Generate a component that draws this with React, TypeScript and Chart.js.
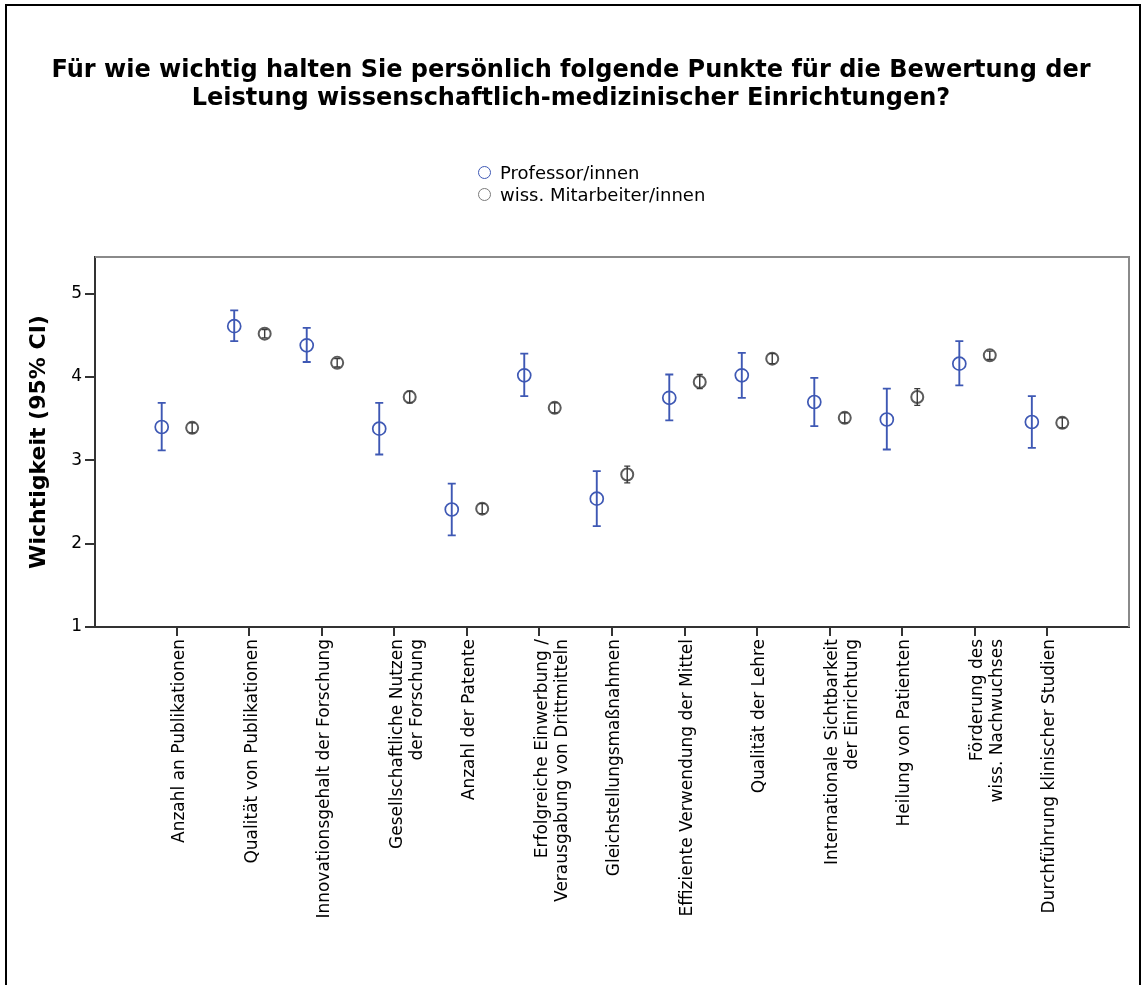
import React, { useEffect, useRef } from 'react';
import { Chart, registerables } from 'chart.js';

Chart.register(...registerables);

// ---------- data ----------
const categories: (string | string[])[] = [
  'Anzahl an Publikationen',
  'Qualität von Publikationen',
  'Innovationsgehalt der Forschung',
  ['Gesellschaftliche Nutzen', 'der Forschung'],
  'Anzahl der Patente',
  ['Erfolgreiche Einwerbung /', 'Verausgabung von Drittmitteln'],
  'Gleichstellungsmaßnahmen',
  'Effiziente Verwendung der Mittel',
  'Qualität der Lehre',
  ['Internationale Sichtbarkeit', 'der Einrichtung'],
  'Heilung von Patienten',
  ['Förderung des', 'wiss. Nachwuchses'],
  'Durchführung klinischer Studien',
];

const profMean = [3.40, 4.61, 4.38, 3.38, 2.41, 4.02, 2.54, 3.75, 4.02, 3.70, 3.49, 4.16, 3.46];
const profLow = [3.12, 4.43, 4.18, 3.07, 2.10, 3.77, 2.21, 3.48, 3.75, 3.41, 3.13, 3.90, 3.15];
const profHigh = [3.69, 4.80, 4.59, 3.69, 2.72, 4.28, 2.87, 4.03, 4.29, 3.99, 3.86, 4.43, 3.77];

const mitMean = [3.39, 4.52, 4.17, 3.76, 2.42, 3.63, 2.83, 3.94, 4.22, 3.51, 3.76, 4.26, 3.45];
const mitLow = [3.33, 4.47, 4.12, 3.69, 2.36, 3.57, 2.73, 3.86, 4.16, 3.45, 3.66, 4.21, 3.39];
const mitHigh = [3.45, 4.57, 4.22, 3.83, 2.48, 3.69, 2.93, 4.03, 4.28, 3.57, 3.86, 4.31, 3.51];

const yTicks = [1, 2, 3, 4, 5];

const seriesNames = ['Professor/innen', 'wiss. Mitarbeiter/innen'];

const titleLines = [
  'Für wie wichtig halten Sie persönlich folgende Punkte für die Bewertung der',
  'Leistung wissenschaftlich-medizinischer Einrichtungen?',
];
const yTitle = 'Wichtigkeit (95% CI)';

// ---------- style ----------
const BLUE = '#3e58b4';
const GREY = '#5c5c5c';
const GROUP_OFFSET = 0.21;
const FONT = "'DejaVu Sans', sans-serif";

const errorBarPlugin = {
  id: 'errorBars',
  afterDatasetsDraw(chart: any) {
    const { ctx } = chart;
    const xs = chart.scales.x;
    const ys = chart.scales.y;
    chart.data.datasets.forEach((ds: any) => {
      ctx.save();
      ctx.strokeStyle = ds.errColor;
      ctx.lineWidth = ds.errWidth;
      const cap = ds.capHalf;
      ds.data.forEach((p: any) => {
        const px = xs.getPixelForValue(p.x);
        const t = ys.getPixelForValue(p.high);
        const b = ys.getPixelForValue(p.low);
        ctx.beginPath();
        ctx.moveTo(px, t);
        ctx.lineTo(px, b);
        ctx.moveTo(px - cap, t);
        ctx.lineTo(px + cap, t);
        ctx.moveTo(px - cap, b);
        ctx.lineTo(px + cap, b);
        ctx.stroke();
      });
      ctx.restore();
    });
  },
};

const framePlugin = {
  id: 'frame',
  afterDraw(chart: any) {
    const { ctx, chartArea } = chart;
    ctx.save();
    ctx.strokeStyle = '#8a8a8a';
    ctx.lineWidth = 2;
    ctx.beginPath();
    ctx.moveTo(chartArea.left, chartArea.top);
    ctx.lineTo(chartArea.right, chartArea.top);
    ctx.lineTo(chartArea.right, chartArea.bottom);
    ctx.stroke();
    ctx.restore();
  },
};

export default function App() {
  const ref = useRef<HTMLCanvasElement | null>(null);

  useEffect(() => {
    if (!ref.current) return;
    const profData = profMean.map((m, i) => ({ x: i - GROUP_OFFSET, y: m, low: profLow[i], high: profHigh[i] }));
    const mitData = mitMean.map((m, i) => ({ x: i + GROUP_OFFSET, y: m, low: mitLow[i], high: mitHigh[i] }));

    const chart = new Chart(ref.current, {
      type: 'scatter',
      data: {
        datasets: [
          {
            label: seriesNames[0],
            data: profData,
            pointStyle: 'circle',
            pointRadius: 6.5,
            borderWidth: 1.7,
            borderColor: BLUE,
            backgroundColor: 'rgba(0,0,0,0)',
            showLine: false,
            errColor: BLUE,
            errWidth: 1.9,
            capHalf: 4,
          } as any,
          {
            label: seriesNames[1],
            data: mitData,
            pointStyle: 'circle',
            pointRadius: 6,
            borderWidth: 2,
            borderColor: GREY,
            backgroundColor: 'rgba(0,0,0,0)',
            showLine: false,
            errColor: '#3a3a3a',
            errWidth: 1.4,
            capHalf: 3,
          } as any,
        ],
      },
      options: {
        responsive: false,
        animation: false,
        events: [],
        layout: { padding: { top: 257, right: 13, left: 0, bottom: 0 } },
        plugins: {
          legend: { display: false },
          tooltip: { enabled: false },
          title: { display: false },
        },
        scales: {
          x: {
            type: 'linear',
            min: -1.13,
            max: 13.13,
            afterBuildTicks: (scale: any) => {
              scale.ticks = categories.map((_, i) => ({ value: i }));
            },
            afterFit: (scale: any) => {
              scale.height = 985 - 627;
            },
            ticks: {
              autoSkip: false,
              minRotation: 90,
              maxRotation: 90,
              padding: 3,
              labelOffset: 3,
              color: '#000',
              font: { family: FONT, size: 17, lineHeight: 1.2 },
              callback: (value: any) => categories[Math.round(Number(value))] as any,
            },
            grid: {
              display: true,
              drawOnChartArea: false,
              drawTicks: true,
              tickLength: 9,
              color: '#333',
              lineWidth: 2,
            },
            border: { display: true, color: '#333', width: 2 },
          },
          y: {
            type: 'linear',
            min: 1,
            max: 5.44,
            afterBuildTicks: (scale: any) => {
              scale.ticks = yTicks.map((v) => ({ value: v }));
            },
            afterFit: (scale: any) => {
              scale.width = 95;
            },
            ticks: {
              padding: 3,
              color: '#000',
              font: { family: FONT, size: 17 },
              callback: (v: any) => String(v),
            },
            grid: {
              display: true,
              drawOnChartArea: false,
              drawTicks: true,
              tickLength: 10,
              color: '#333',
              lineWidth: 2,
            },
            border: { display: true, color: '#333', width: 2 },
            title: {
              display: true,
              text: yTitle,
              color: '#000',
              font: { family: FONT, size: 22, weight: 'bold', lineHeight: 1.2 },
              padding: { top: 26, bottom: 0 },
            },
          },
        },
      } as any,
      plugins: [errorBarPlugin, framePlugin],
    });
    return () => chart.destroy();
  }, []);

  const legendColors = [BLUE, '#7a7a7a'];

  return (
    <div style={{ position: 'absolute', left: 0, top: 0, width: 1142, height: 985, overflow: 'hidden', background: '#fff' }}>
      <div
        style={{
          position: 'absolute',
          left: 5,
          top: 4,
          width: 1132,
          height: 1000,
          borderTop: '2px solid #000',
          borderLeft: '2px solid #000',
          borderRight: '2px solid #000',
        }}
      />
      <canvas ref={ref} width={1142} height={985} style={{ position: 'absolute', left: 0, top: 0 }} />
      <div
        style={{
          position: 'absolute',
          left: 0,
          top: 55,
          width: 1142,
          textAlign: 'center',
          fontFamily: FONT,
          fontWeight: 'bold',
          fontSize: 24,
          lineHeight: '28px',
          color: '#000',
        }}
      >
        {titleLines.map((t, i) => (
          <div key={i}>{t}</div>
        ))}
      </div>
      <div style={{ position: 'absolute', left: 478, top: 161, fontFamily: FONT, fontSize: 18, color: '#000' }}>
        {seriesNames.map((n, i) => (
          <div key={i} style={{ display: 'flex', alignItems: 'center', height: 22 }}>
            <span
              style={{
                display: 'inline-block',
                width: 11,
                height: 11,
                borderRadius: '50%',
                border: `1.5px solid ${legendColors[i]}`,
                marginRight: 9,
              }}
            />
            <span>{n}</span>
          </div>
        ))}
      </div>
    </div>
  );
}
